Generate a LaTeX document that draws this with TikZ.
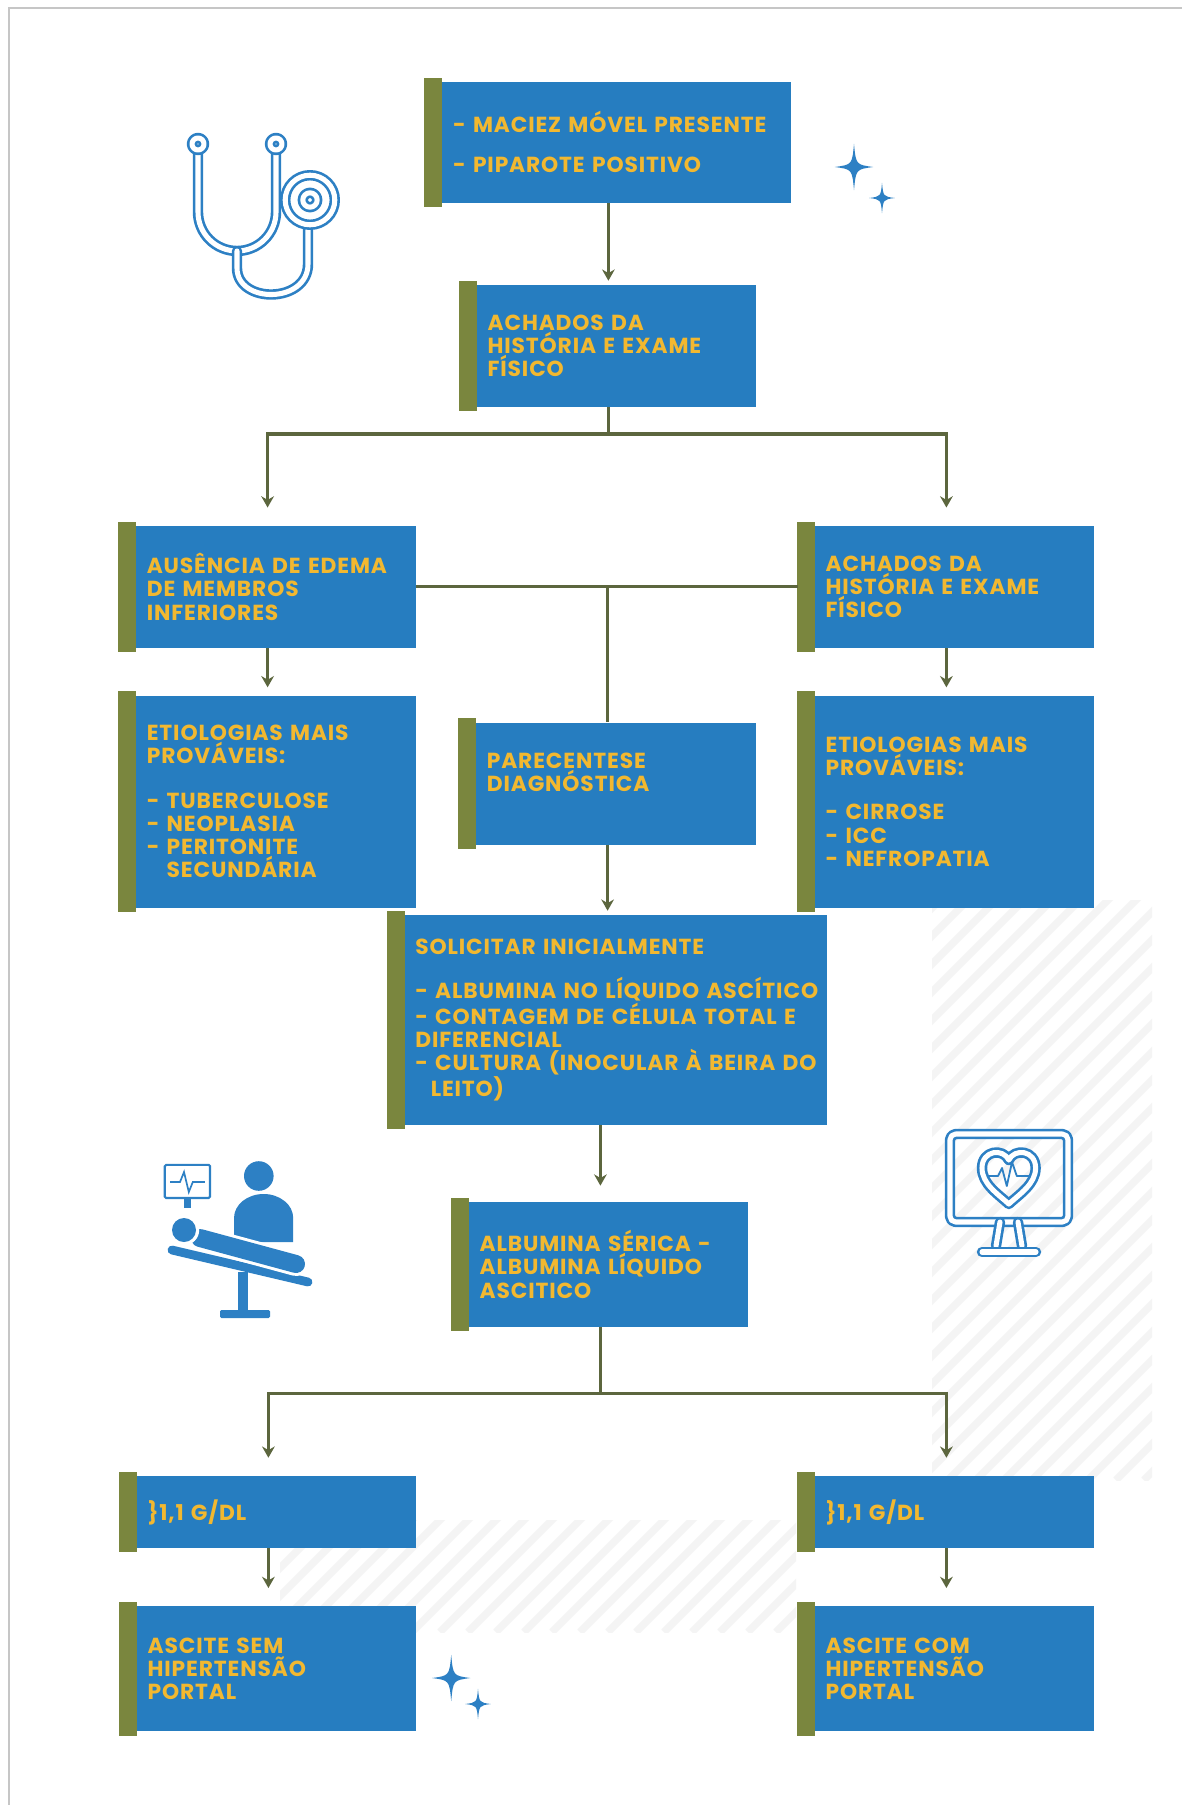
\documentclass[tikz,border=0pt]{standalone}
\usepackage{fontspec}
\newfontfamily\boxfont{Poppins}[LetterSpace=4]
\usepackage{xcolor}
\definecolor{boxblue}{RGB}{38,125,192}
\definecolor{boxgold}{RGB}{242,184,48}
\definecolor{barolive}{RGB}{122,134,62}
\definecolor{linkolive}{RGB}{92,102,62}
\definecolor{iconblue}{RGB}{45,128,196}
\usepackage{tikz}
\usetikzlibrary{arrows.meta}
\hyphenpenalty=10000
\tikzset{
  flowbox/.style={fill=boxblue, text=boxgold, inner sep=0pt,
    minimum width=#1, text width=#1, minimum height=3.05cm,
    align=left, execute at begin node={\leftskip=0.68cm},
    font=\boxfont\bfseries\fontsize{15.5}{16.5}\selectfont},
  flowbox/.default=7.4cm,
  link/.style={draw=linkolive, line width=2.2pt},
  arr/.style={link, -{Stealth[length=8pt,width=9pt]}, shorten >=0.2cm},
  iconline/.style={draw=iconblue, line width=1.9pt, double=white,
    double distance=3.6pt, line cap=round, line join=round},
  stripe/.style={draw=gray!9, line width=0.18cm},
  sparkle/.pic={
    \fill[iconblue] (0,1) .. controls (0.1,0.1) .. (1,0)
      .. controls (0.1,-0.1) .. (0,-1) .. controls (-0.1,-0.1) .. (-1,0)
      .. controls (-0.1,0.1) .. (0,1);
  },
}

\begin{document}
\begin{tikzpicture}
  \path[use as bounding box, fill=white] (0,0) rectangle (29.55,-45.125);
  \draw[gray!45, line width=1pt] (0.22,-45.125) -- (0.22,-0.2) -- (29.55,-0.2);

  % faint hatching in the background
  \begin{scope}
    \clip (23.3,-22.5) rectangle (28.8,-37.0);
    \foreach \s in {0,0.7,...,21}
      \draw[stripe] (23.3+\s-15,-37.0) -- ++(15,15);
  \end{scope}
  \begin{scope}
    \clip (7.0,-38.0) rectangle (19.9,-40.8);
    \foreach \s in {0,0.7,...,16}
      \draw[stripe] (7.0+\s-3,-40.8) -- ++(3,3);
  \end{scope}

  % boxes
  \node[flowbox=9.125cm, minimum height=3.025cm] (signs) at (15.21,-3.56)
    {- MACIEZ MÓVEL PRESENTE\\[12pt]- PIPAROTE POSITIVO};
  \node[flowbox] (history) at (15.21,-8.65) {ACHADOS DA\\HISTÓRIA E EXAME\\FÍSICO};
  \node[flowbox] (noedema) at (6.69,-14.67) {AUSÊNCIA DE EDEMA\\DE MEMBROS\\INFERIORES};
  \node[flowbox] (findings) at (23.66,-14.67) {ACHADOS DA\\HISTÓRIA E EXAME\\FÍSICO};
  \node[flowbox, minimum height=5.3cm] (causesL) at (6.69,-20.04)
    {ETIOLOGIAS MAIS\\PROVÁVEIS:\\[15pt]- TUBERCULOSE\\- NEOPLASIA\\- PERITONITE\\\phantom{- }SECUNDÁRIA};
  \node[flowbox] (tap) at (15.19,-19.59) {PARECENTESE\\DIAGNÓSTICA\\\mbox{}};
  \node[flowbox, minimum height=5.3cm] (causesR) at (23.66,-20.04)
    {ETIOLOGIAS MAIS\\PROVÁVEIS:\\[15pt]- CIRROSE\\- ICC\\- NEFROPATIA};
  \node[flowbox=10.975cm, minimum height=5.25cm] (request) at (15.19,-25.5)
    {SOLICITAR INICIALMENTE\\[15pt]- ALBUMINA NO LÍQUIDO ASCÍTICO\\- CONTAGEM DE CÉLULA TOTAL E\\DIFERENCIAL\\- CULTURA (INOCULAR À BEIRA DO\\\hspace{11pt}LEITO)};
  \node[flowbox, minimum height=3.125cm] (gradient) at (15.01,-31.61)
    {ALBUMINA SÉRICA -\\ALBUMINA LÍQUIDO\\ASCITICO};
  \node[flowbox, minimum height=1.8cm] (lowgrad) at (6.71,-37.8) {\}1,1 G/DL};
  \node[flowbox, minimum height=1.8cm] (highgrad) at (23.66,-37.8) {\}1,1 G/DL};
  \node[flowbox, minimum height=3.125cm] (nonportal) at (6.71,-41.72)
    {ASCITE SEM\\HIPERTENSÃO\\PORTAL};
  \node[flowbox, minimum height=3.125cm] (portal) at (23.66,-41.72)
    {ASCITE COM\\HIPERTENSÃO\\PORTAL};

  % olive strip on the left of every box
  \foreach \n in {signs,history,noedema,findings,causesL,tap,causesR,request,
                  gradient,lowgrad,highgrad,nonportal,portal}
    \fill[barolive] ([xshift=-0.03cm,yshift=0.1cm]\n.north west)
      rectangle ([xshift=0.42cm,yshift=-0.1cm]\n.south west);

  % connectors
  \draw[arr, shorten >=0.1cm] (signs) -- (history);
  \coordinate (upsplit) at (history.south |- 0,-10.85);
  \draw[link] (history.south) -- (upsplit);
  \draw[arr, shorten >=0.45cm] (upsplit) -| (noedema.north);
  \draw[arr, shorten >=0.45cm] (upsplit) -| (findings.north);
  \draw[arr] (noedema) -- (causesL);
  \draw[arr] (findings) -- (causesR);
  \draw[link] (noedema.east) -- (findings.west);
  \coordinate (midcross) at (tap.north |- noedema.east);
  \draw[link] (midcross) -- (tap.north);
  \draw[arr, shorten >=0.1cm] (tap) -- (request);
  \draw[arr, shorten >=0.4cm] (gradient.north |- request.south) -- (gradient.north);
  \coordinate (lowsplit) at (gradient.south |- 0,-34.83);
  \draw[link] (gradient.south) -- (lowsplit);
  \draw[arr, shorten >=0.45cm] (lowsplit) -| (lowgrad.north);
  \draw[arr, shorten >=0.45cm] (lowsplit) -| (highgrad.north);
  \draw[arr, shorten >=0.45cm] (lowgrad) -- (nonportal);
  \draw[arr, shorten >=0.45cm] (highgrad) -- (portal);

  % stethoscope
  \draw[iconline] (4.95,-3.75) -- (4.95,-5.3) arc (180:360:0.975) -- (6.9,-3.75);
  \draw[iconline] (4.95,-3.6) circle (0.15);
  \draw[iconline] (6.9,-3.6) circle (0.15);
  \draw[iconline] (5.925,-6.275) -- (5.925,-6.7)
    .. controls (5.925,-7.6) and (7.7,-7.6) .. (7.7,-6.6) -- (7.7,-5.65);
  \draw[iconline] (7.75,-5.0) circle (0.62);
  \draw[iconline] (7.75,-5.0) circle (0.18);

  % sparkles
  \pic[xscale=0.48, yscale=0.58] at (21.35,-4.175) {sparkle};
  \pic[xscale=0.32, yscale=0.38] at (22.05,-4.95) {sparkle};
  \pic[xscale=0.48, yscale=0.58] at (11.28,-41.95) {sparkle};
  \pic[xscale=0.32, yscale=0.38] at (11.95,-42.6) {sparkle};

  % monitor with heart
  \draw[iconline, rounded corners=4pt] (23.75,-28.35) rectangle (26.7,-30.55);
  \draw[iconline] (25.0,-30.55) -- (24.9,-31.15);
  \draw[iconline] (25.45,-30.55) -- (25.55,-31.15);
  \draw[iconline] (24.55,-31.3) -- (25.9,-31.3);
  \draw[iconline] (25.22,-30.1)
    .. controls (24.95,-29.85) and (24.55,-29.6) .. (24.55,-29.2)
    .. controls (24.55,-28.75) and (25.08,-28.7) .. (25.22,-29.0)
    .. controls (25.36,-28.7) and (25.89,-28.75) .. (25.89,-29.2)
    .. controls (25.89,-29.6) and (25.49,-29.85) .. (25.22,-30.1);
  \draw[iconblue, line width=1.3pt, line join=round]
    (24.7,-29.4) -- (24.95,-29.4) -- (25.05,-29.2) -- (25.17,-29.65)
    -- (25.3,-29.05) -- (25.42,-29.4) -- (25.75,-29.4);

  % patient in the chair with the doctor
  \draw[iconblue, line width=1.5pt, rounded corners=1pt] (4.12,-29.12) rectangle (5.25,-29.95);
  \draw[iconblue, line width=1.2pt] (4.25,-29.55) -- (4.5,-29.55) -- (4.6,-29.3)
    -- (4.72,-29.8) -- (4.82,-29.55) -- (5.12,-29.55);
  \fill[iconblue] (4.6,-29.95) rectangle (4.77,-30.2);
  \fill[iconblue] (6.47,-29.4) circle (0.37);
  \fill[iconblue] (5.85,-31.05) -- (5.85,-30.45) arc (180:0:0.74 and 0.6) -- (7.33,-31.05) -- cycle;
  \draw[iconblue, line width=0.22cm, line cap=round] (4.3,-31.25) -- (7.7,-32.05);
  \draw[white, line width=0.6cm, line cap=round] (5.0,-30.95) -- (7.4,-31.6);
  \draw[iconblue, line width=0.45cm, line cap=round] (5.0,-30.95) -- (7.4,-31.6);
  \fill[white] (4.6,-30.75) circle (0.38);
  \fill[iconblue] (4.6,-30.75) circle (0.3);
  \fill[iconblue] (5.95,-31.8) rectangle (6.2,-32.75);
  \fill[iconblue, rounded corners=1pt] (5.5,-32.75) rectangle (6.75,-32.95);
\end{tikzpicture}
\end{document}
